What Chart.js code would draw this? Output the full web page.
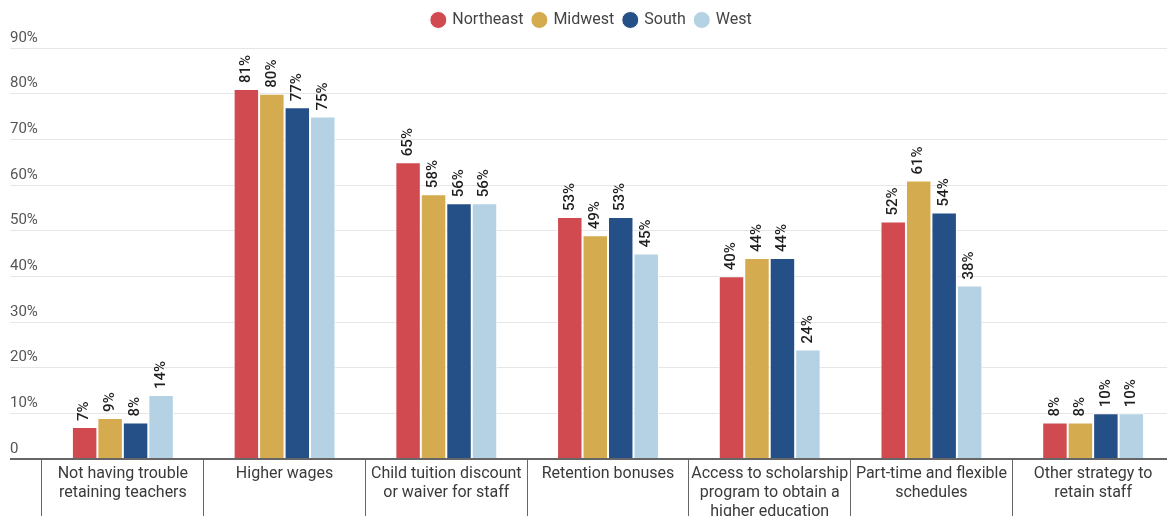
<!DOCTYPE html>
<html>
<head>
<meta charset="utf-8">
<script src="https://cdn.jsdelivr.net/npm/chart.js@4/dist/chart.umd.min.js"></script>
<style>
  html, body { margin: 0; padding: 0; background: #fff; overflow: hidden; }
  #wrap { width: 1180px; height: 516px; }
</style>
</head>
<body>
<div id="wrap"><canvas id="chart"></canvas></div>
<script>
// categories (wrapped like the original axis labels)
const categories = [
  [`Not having trouble`, `retaining teachers`],
  [`Higher wages`],
  [`Child tuition discount`, `or waiver for staff`],
  [`Retention bonuses`],
  [`Access to scholarship`, `program to obtain a`, `higher education`],
  [`Part-time and flexible`, `schedules`],
  [`Other strategy to`, `retain staff`]
]

// share of programs per region, in %
const northeast = [7, 81, 65, 53, 40, 52, 8]
const midwest = [9, 80, 58, 49, 44, 61, 8]
const south = [8, 77, 56, 53, 44, 54, 10]
const west = [14, 75, 56, 45, 24, 38, 10]

const yTicks = [0, 10, 20, 30, 40, 50, 60, 70, 80, 90]

const font = `Roboto, "Noto Sans", sans-serif`

//  Draws the rotated % labels above each bar
const valueLabels = {
  id: `valueLabels`,
  afterDatasetsDraw(chart) {
    const { ctx } = chart
    ctx.save()
    ctx.font = `500 15px ${font}`
    ctx.fillStyle = `#1e1e1e`
    ctx.textAlign = `left`
    ctx.textBaseline = `middle`
    chart.data.datasets.forEach((ds, i) => {
      chart.getDatasetMeta(i).data.forEach((bar, j) => {
        ctx.save()
        ctx.translate(bar.x, bar.y - 6)
        ctx.rotate(-Math.PI / 2)
        ctx.fillText(`${ds.data[j]}%`, 0, 0)
        ctx.restore()
      })
    })
    ctx.restore()
  }
}

//  Leaves some room between the legend and the plot
const legendGap = {
  id: `legendGap`,
  beforeInit(chart) {
    const fit = chart.legend.fit
    chart.legend.fit = function () {
      fit.bind(chart.legend)()
      this.height += 10
    }
  }
}

const makeSet = (label, data, color) => ({
  label,
  data,
  backgroundColor: color,
  borderColor: `#fff`,
  borderWidth: 1,
  categoryPercentage: 0.63,
  barPercentage: 1
})

new Chart(document.getElementById(`chart`), {
  type: `bar`,
  data: {
    labels: categories,
    datasets: [
      makeSet(`Northeast`, northeast, `#d04a50`),
      makeSet(`Midwest`, midwest, `#d5ab4f`),
      makeSet(`South`, south, `#244f87`),
      makeSet(`West`, west, `#b4d2e4`)
    ]
  },
  options: {
    responsive: true,
    maintainAspectRatio: false,
    animation: false,
    layout: { padding: { left: 10, right: 6, top: 2, bottom: 0 } },
    plugins: {
      tooltip: { enabled: false },
      legend: {
        position: `top`,
        labels: {
          usePointStyle: true,
          pointStyle: `circle`,
          boxWidth: 12,
          boxHeight: 12,
          padding: 10,
          color: `#444`,
          font: { family: font, size: 16 }
        }
      }
    },
    scales: {
      x: {
        border: { display: false },
        grid: {
          offset: true,
          drawOnChartArea: false,
          drawTicks: true,
          tickLength: 60,
          color: `#666`,
          lineWidth: 1
        },
        ticks: {
          autoSkip: false,
          maxRotation: 0,
          padding: -55,
          color: `#3a3a3a`,
          font: { family: font, size: 16 }
        },
        afterFit: scale => { scale.height = 57 }
      },
      y: {
        min: 0,
        max: 90,
        border: { display: false },
        afterBuildTicks: scale => { scale.ticks = yTicks.map(v => ({ value: v })) },
        afterFit: scale => { scale.width = 32 },
        grid: {
          drawTicks: true,
          tickLength: 32,
          color: c => c.tick && c.tick.value === 0 ? `#666` : `#e6e6e6`,
          lineWidth: c => c.tick && c.tick.value === 0 ? 2 : 1
        },
        ticks: {
          crossAlign: `far`,
          labelOffset: -10,
          color: `#555`,
          font: { family: font, size: 15 },
          callback: v => v === 0 ? `0` : `${v}%`
        }
      }
    }
  },
  plugins: [valueLabels, legendGap]
})
</script>
</body>
</html>
